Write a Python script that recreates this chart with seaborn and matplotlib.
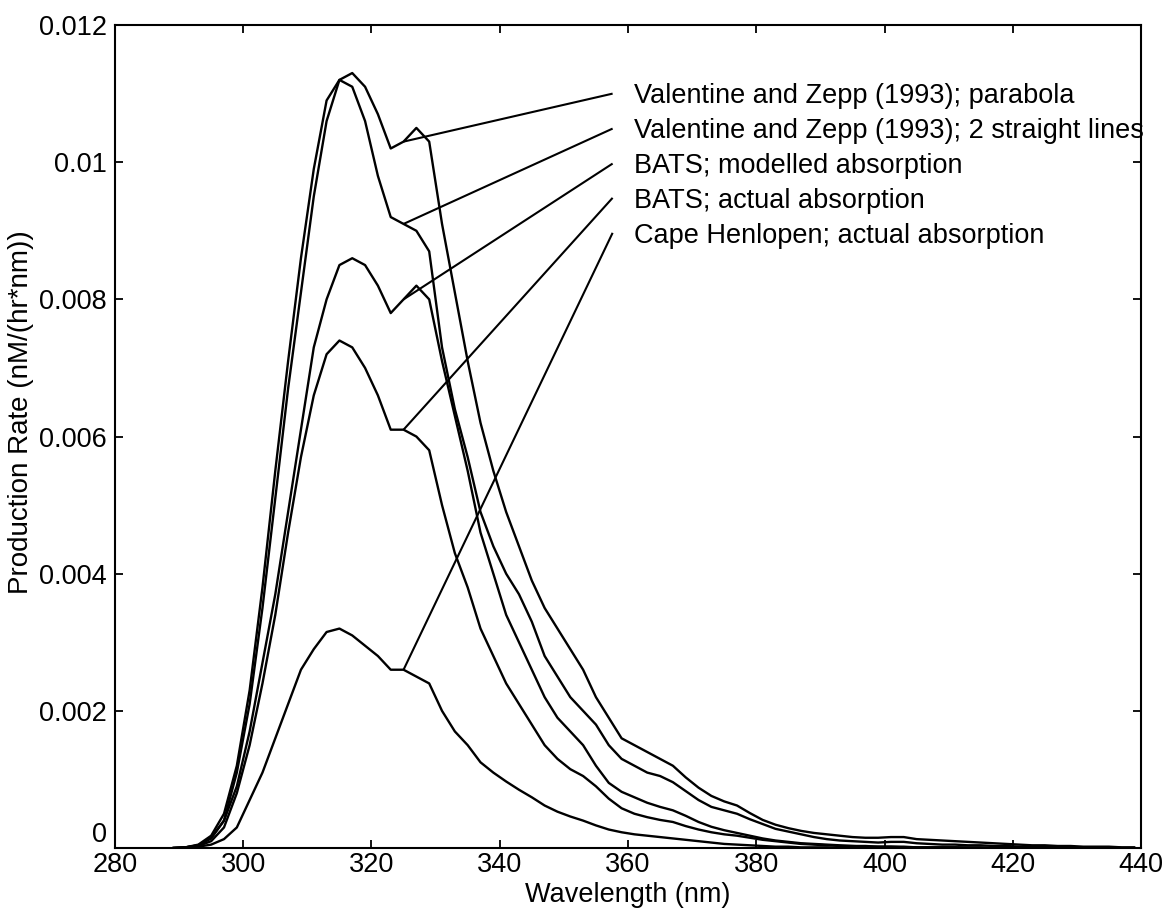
import numpy as np
import pandas as pd
import matplotlib
matplotlib.use("Agg")
import matplotlib.pyplot as plt
import seaborn as sns

# Wavelength grid (nm)
wavelength = np.arange(289, 440, 2)

# Hydrogen peroxide production rate spectra, nM/(hr*nm)
vz_parabola = [
    0, 0.00001, 0.00004, 0.00015, 0.0004, 0.0011, 0.0021, 0.0035, 0.0051, 0.0067,
    0.0081, 0.0095, 0.0106, 0.0112, 0.0113, 0.0111, 0.0107, 0.0102, 0.0103, 0.0105,
    0.0103, 0.0091, 0.0081, 0.0071, 0.0062, 0.0055, 0.0049, 0.0044, 0.0039, 0.0035,
    0.0032, 0.0029, 0.0026, 0.0022, 0.0019, 0.0016, 0.0015, 0.0014, 0.0013, 0.0012,
    0.00103, 0.00088, 0.00076, 0.00068, 0.00062, 0.00051, 0.00041, 0.00034, 0.00029, 0.00025,
    0.00022, 0.0002, 0.00018, 0.00016, 0.00015, 0.00015, 0.00016, 0.00016, 0.00013, 0.00012,
    0.00011, 0.0001, 0.00009, 0.00008, 0.00007, 0.00006, 0.00005, 0.00004, 0.00004, 0.00003,
    0.00003, 0.00002, 0.00002, 0.00002, 0.00001, 0.00001,
]
vz_two_lines = [
    0, 0.00001, 0.00005, 0.00018, 0.0005, 0.0012, 0.0023, 0.0038, 0.0055, 0.0071,
    0.0086, 0.0099, 0.0109, 0.0112, 0.0111, 0.0106, 0.0098, 0.0092, 0.0091, 0.0090,
    0.0087, 0.0073, 0.0064, 0.0057, 0.0049, 0.0044, 0.0040, 0.0037, 0.0033, 0.0028,
    0.0025, 0.0022, 0.0020, 0.0018, 0.0015, 0.0013, 0.0012, 0.0011, 0.00105, 0.00096,
    0.00083, 0.0007, 0.0006, 0.00055, 0.0005, 0.00042, 0.00035, 0.00028, 0.00024, 0.0002,
    0.00016, 0.00013, 0.00011, 0.0001, 0.00009, 0.00008, 0.00009, 0.00009, 0.00007, 0.00006,
    0.00005, 0.00005, 0.00004, 0.00004, 0.00003, 0.00003, 0.00002, 0.00002, 0.00002, 0.00001,
    0.00001, 0.00001, 0.00001, 0.00001, 0, 0,
]
bats_modelled = [
    0, 0.00001, 0.00004, 0.00014, 0.0004, 0.0009, 0.0017, 0.0027, 0.0037, 0.0049,
    0.0061, 0.0073, 0.0080, 0.0085, 0.0086, 0.0085, 0.0082, 0.0078, 0.0080, 0.0082,
    0.0080, 0.0071, 0.0063, 0.0055, 0.0046, 0.0040, 0.0034, 0.0030, 0.0026, 0.0022,
    0.0019, 0.0017, 0.0015, 0.0012, 0.00095, 0.00082, 0.00074, 0.00066, 0.0006, 0.00055,
    0.00047, 0.00038, 0.00031, 0.00026, 0.00022, 0.00018, 0.00014, 0.00011, 0.00009, 0.00007,
    0.00006, 0.00005, 0.00004, 0.00003, 0.00003, 0.00002, 0.00002, 0.00002, 0.00001, 0.00001,
    0.00001, 0.00001, 0.00001, 0.00001, 0, 0, 0, 0, 0, 0,
    0, 0, 0, 0, 0, 0,
]
bats_actual = [
    0, 0.00001, 0.00003, 0.0001, 0.0003, 0.0008, 0.0015, 0.0024, 0.0034, 0.0046,
    0.0057, 0.0066, 0.0072, 0.0074, 0.0073, 0.0070, 0.0066, 0.0061, 0.0061, 0.0060,
    0.0058, 0.0050, 0.0043, 0.0038, 0.0032, 0.0028, 0.0024, 0.0021, 0.0018, 0.0015,
    0.0013, 0.00115, 0.00105, 0.0009, 0.00072, 0.00058, 0.0005, 0.00045, 0.00041, 0.00038,
    0.00032, 0.00027, 0.00023, 0.0002, 0.00018, 0.00015, 0.00012, 0.0001, 0.00008, 0.00006,
    0.00005, 0.00004, 0.00003, 0.00003, 0.00002, 0.00002, 0.00002, 0.00001, 0.00001, 0.00001,
    0.00001, 0.00001, 0, 0, 0, 0, 0, 0, 0, 0,
    0, 0, 0, 0, 0, 0,
]
cape_henlopen = [
    0, 0, 0.00002, 0.00005, 0.00013, 0.0003, 0.0007, 0.0011, 0.0016, 0.0021,
    0.0026, 0.0029, 0.00315, 0.0032, 0.0031, 0.00295, 0.0028, 0.0026, 0.0026, 0.0025,
    0.0024, 0.0020, 0.0017, 0.0015, 0.00125, 0.0011, 0.00097, 0.00085, 0.00074, 0.00062,
    0.00053, 0.00046, 0.0004, 0.00033, 0.00027, 0.00023, 0.0002, 0.00018, 0.00016, 0.00014,
    0.00012, 0.0001, 0.00008, 0.00006, 0.00005, 0.00004, 0.00003, 0.00002, 0.00002, 0.00001,
    0.00001, 0.00001, 0, 0, 0, 0, 0, 0, 0, 0,
    0, 0, 0, 0, 0, 0, 0, 0, 0, 0,
    0, 0, 0, 0, 0, 0,
]

series_labels = [
    "Valentine and Zepp (1993); parabola",
    "Valentine and Zepp (1993); 2 straight lines",
    "BATS; modelled absorption",
    "BATS; actual absorption",
    "Cape Henlopen; actual absorption",
]
series_values = [vz_parabola, vz_two_lines, bats_modelled, bats_actual, cape_henlopen]

x_ticks = [280, 300, 320, 340, 360, 380, 400, 420, 440]
y_ticks = [0, 0.002, 0.004, 0.006, 0.008, 0.01, 0.012]
y_tick_labels = ["0", "0.002", "0.004", "0.006", "0.008", "0.01", "0.012"]

frames = []
for name, vals in zip(series_labels, series_values):
    assert len(vals) == len(wavelength)
    frames.append(pd.DataFrame({"wavelength": wavelength, "rate": vals, "series": name}))
data = pd.concat(frames, ignore_index=True)

sns.set_theme(style="white")
plt.rcParams["font.family"] = ["Liberation Sans", "DejaVu Sans"]
plt.rcParams["axes.linewidth"] = 1.5
plt.rcParams["text.color"] = "black"
plt.rcParams["axes.labelcolor"] = "black"

fig = plt.figure(figsize=(11.66, 9.17), dpi=100)
ax = fig.add_axes([0.0986, 0.0752, 0.8800, 0.8975])

sns.lineplot(data=data, x="wavelength", y="rate", units="series", estimator=None,
             color="black", linewidth=1.7, ax=ax, legend=False)

# leader lines from each curve (at 325 nm) to its label
anchor_nm = 325
anchor_idx = list(wavelength).index(anchor_nm)
label_x_end = 357.6
label_x_text = 361.0
label_rows = [0.01096, 0.01045, 0.00994, 0.00944, 0.00893]
for name, vals, ty in zip(series_labels, series_values, label_rows):
    ax.plot([anchor_nm, label_x_end], [vals[anchor_idx], ty + 0.00004],
            color="black", linewidth=1.5, solid_capstyle="butt")
    ax.text(label_x_text, ty, name, fontsize=19.5, va="center", ha="left",
            color="black", clip_on=False)

ax.set_xlim(280, 440)
ax.set_ylim(0, 0.012)
ax.set_xticks(x_ticks)
ax.set_xticklabels([str(t) for t in x_ticks])
ax.set_yticks(y_ticks)
ax.set_yticklabels(y_tick_labels)
ax.tick_params(axis="both", which="major", direction="in", length=6, width=1.3,
               labelsize=19.5, colors="black", top=True, right=True,
               bottom=True, left=True)
ax.tick_params(axis="y", pad=6)
ax.tick_params(axis="x", pad=3)
# lift the "0" label so it sits just above the "280" label
ax.get_yticklabels()[0].set_verticalalignment("bottom")
for sp in ax.spines.values():
    sp.set_visible(True)
    sp.set_color("black")

ax.set_xlabel("Wavelength (nm)", fontsize=19.5, labelpad=3, color="black")
ax.set_ylabel("Production Rate (nM/(hr*nm))", fontsize=20, color="black")
ax.yaxis.set_label_coords(-0.079, 0.53)

fig.savefig("out.png", dpi=100, facecolor="white")
